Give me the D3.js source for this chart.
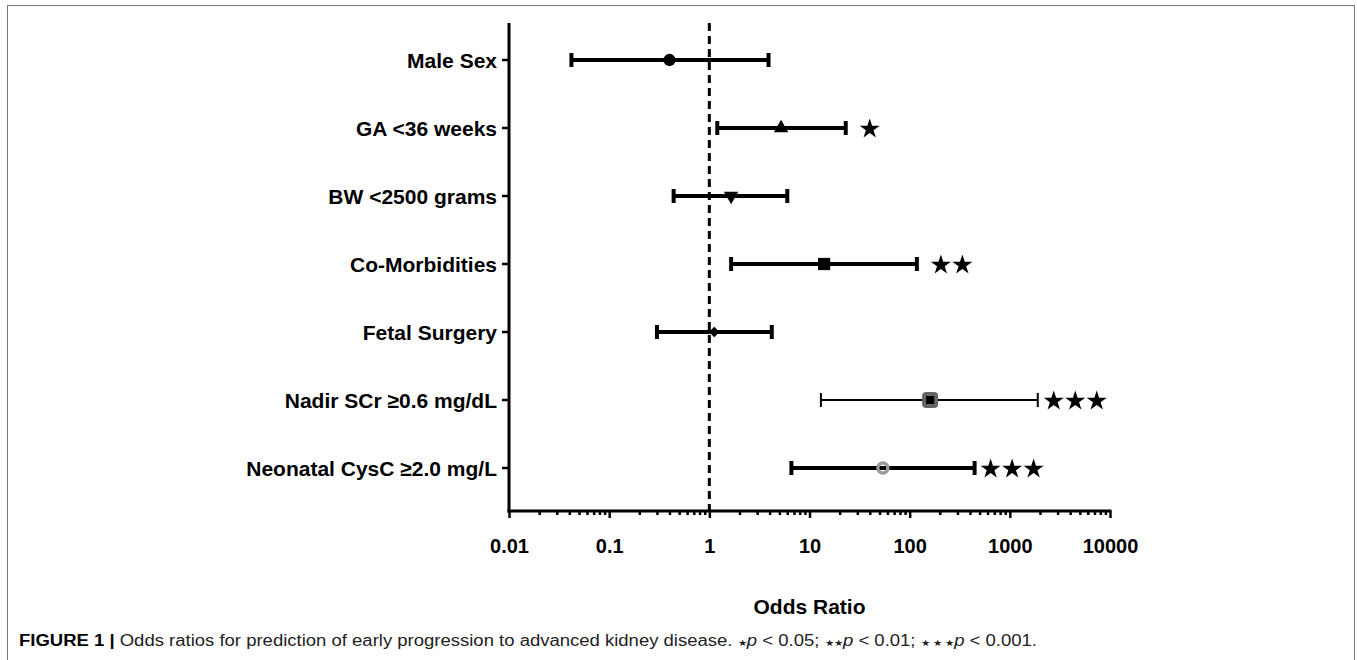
<!DOCTYPE html>
<html lang="en">
<head>
<meta charset="UTF-8"/>
<title>Odds ratios</title>
<style type="text/css">
  body {
    margin: 0;
    background: #fff;
  }
  svg {
    display: block;
    font-family: "Liberation Sans", Arial, Helvetica, sans-serif;
  }
  text.cat {
    font-size: 21px;
    font-weight: bold;
    fill: #000;
  }
  text.xlabel {
    font-size: 21px;
    font-weight: bold;
  }
  .xaxis text {
    font-size: 20px;
    font-weight: bold;
    fill: #000;
    font-family: "Liberation Sans", Arial, sans-serif;
  }
  .xaxis path {
    stroke-width: 0;
  }
  .xaxis line, .minor line {
    stroke: #000;
    stroke-width: 2.5;
  }
  .minor path {
    stroke-width: 0;
  }
  text.caption {
    font-size: 16px;
    fill: #222;
  }
</style>
</head>
<body>
<svg width="1357" height="660"></svg>
<script src="https://d3js.org/d3.v7.min.js"></script>
<script type="text/javascript">
  // rows, top to bottom
  const categories = ['Male Sex', 'GA <36 weeks', 'BW <2500 grams', 'Co-Morbidities',
    'Fetal Surgery', 'Nadir SCr \u22650.6 mg/dL', 'Neonatal CysC \u22652.0 mg/L'];
  const oddsRatio = [0.40, 5.2, 1.65, 14, 1.12, 160, 54];
  const ciLow = [0.042, 1.2, 0.44, 1.65, 0.30, 13, 6.6];
  const ciHigh = [3.9, 23, 6.0, 118, 4.2, 1900, 445];
  const stars = [0, 1, 0, 2, 0, 3, 3];
  const markers = ['circle', 'triangle', 'triangleDown', 'square', 'diamond', 'roundSquare', 'ring'];
  const xTicks = [0.01, 0.1, 1, 10, 100, 1000, 10000];

  const svg = d3.select('svg');

  // frame around figure
  svg.append('rect')
    .attr('x', 7.5).attr('y', 5.5)
    .attr('width', 1347).attr('height', 700)
    .attr('fill', 'none')
    .attr('stroke', '#777')
    .attr('stroke-width', 1);

  const plotLeft = 509, plotRight = 1110, plotTop = 23, plotBottom = 511;

  const x = d3.scaleLog()
    .domain([xTicks[0], xTicks[xTicks.length - 1]])
    .range([plotLeft, plotRight]);
  const y = d3.scalePoint()
    .domain(categories)
    .range([60, 468]);

  // minor ticks
  const minorTicks = [];
  for (let d = 0; d < xTicks.length - 1; d++) {
    for (let k = 2; k <= 9; k++) minorTicks.push(xTicks[d] * k);
  }
  svg.append('g')
    .attr('class', 'minor')
    .attr('transform', `translate(0, ${plotBottom})`)
    .call(d3.axisBottom(x).tickValues(minorTicks).tickSize(4).tickFormat(''));

  svg.append('g')
    .attr('class', 'xaxis')
    .attr('transform', `translate(0, ${plotBottom})`)
    .call(d3.axisBottom(x).tickValues(xTicks).tickSize(7).tickPadding(21)
      .tickFormat((d) => String(d)));

  // axis lines
  svg.append('line')
    .attr('x1', plotLeft - 1.5).attr('x2', plotRight + 1.5)
    .attr('y1', plotBottom).attr('y2', plotBottom)
    .attr('stroke', '#000').attr('stroke-width', 3);
  svg.append('line')
    .attr('x1', plotLeft).attr('x2', plotLeft)
    .attr('y1', plotTop).attr('y2', plotBottom + 1.5)
    .attr('stroke', '#000').attr('stroke-width', 3);

  // category ticks + labels
  categories.forEach((c) => {
    svg.append('line')
      .attr('x1', plotLeft - 7).attr('x2', plotLeft)
      .attr('y1', y(c)).attr('y2', y(c))
      .attr('stroke', '#000').attr('stroke-width', 2.5);
    svg.append('text')
      .attr('class', 'cat')
      .attr('x', plotLeft - 12)
      .attr('y', y(c) + 7.5)
      .attr('text-anchor', 'end')
      .text(c);
  });

  // reference line at OR = 1
  svg.append('line')
    .attr('x1', x(1)).attr('x2', x(1))
    .attr('y1', plotTop).attr('y2', plotBottom)
    .attr('stroke', '#000')
    .attr('stroke-width', 3)
    .attr('stroke-dasharray', '8 5');

  // error bars
  categories.forEach((c, i) => {
    const thin = markers[i] === 'roundSquare';
    const w = thin ? 2 : 4;
    const cy = y(c);
    svg.append('line')
      .attr('x1', x(ciLow[i])).attr('x2', x(ciHigh[i]))
      .attr('y1', cy).attr('y2', cy)
      .attr('stroke', '#000').attr('stroke-width', w);
    [ciLow[i], ciHigh[i]].forEach((v) => {
      svg.append('line')
        .attr('x1', x(v)).attr('x2', x(v))
        .attr('y1', cy - 7).attr('y2', cy + 7)
        .attr('stroke', '#000').attr('stroke-width', w);
    });
  });

  // point markers
  categories.forEach((c, i) => {
    const cx = x(oddsRatio[i]), cy = y(c);
    const g = svg.append('g').attr('transform', `translate(${cx}, ${cy})`);
    const m = markers[i];
    if (m === 'circle') {
      g.append('path').attr('d', d3.symbol(d3.symbolCircle, 120)()).attr('fill', '#000');
    } else if (m === 'triangle') {
      g.append('path').attr('d', d3.symbol(d3.symbolTriangle, 90)()).attr('fill', '#000');
    } else if (m === 'triangleDown') {
      g.append('path').attr('d', d3.symbol(d3.symbolTriangle, 90)())
        .attr('transform', 'rotate(180)').attr('fill', '#000');
    } else if (m === 'square') {
      g.append('path').attr('d', d3.symbol(d3.symbolSquare, 150)()).attr('fill', '#000');
    } else if (m === 'diamond') {
      g.append('path').attr('d', d3.symbol(d3.symbolSquare, 55)())
        .attr('transform', 'rotate(45)').attr('fill', '#000');
    } else if (m === 'roundSquare') {
      g.append('rect').attr('x', -8).attr('y', -8).attr('width', 16).attr('height', 16)
        .attr('rx', 4).attr('fill', '#666');
      g.append('rect').attr('x', -4).attr('y', -4).attr('width', 8).attr('height', 8)
        .attr('fill', '#000');
    } else if (m === 'ring') {
      g.append('circle').attr('r', 5).attr('fill', 'none')
        .attr('stroke', '#9a9a9a').attr('stroke-width', 3.5);
    }
  });

  // significance stars
  const star = d3.symbol(d3.symbolStar, 125)();
  categories.forEach((c, i) => {
    const n = stars[i];
    const gap = n === 3 ? 16 : 24;
    for (let k = 0; k < n; k++) {
      svg.append('path')
        .attr('d', star)
        .attr('transform', `translate(${x(ciHigh[i]) + gap + k * 21.5}, ${y(c) + 1})`)
        .attr('fill', '#000');
    }
  });

  svg.append('text')
    .attr('class', 'xlabel')
    .attr('x', (plotLeft + plotRight) / 2)
    .attr('y', 614)
    .attr('text-anchor', 'middle')
    .text('Odds Ratio');

  // caption
  const cap = svg.append('text')
    .attr('class', 'caption')
    .attr('x', 19)
    .attr('y', 646)
    .attr('textLength', 1018)
    .attr('lengthAdjust', 'spacingAndGlyphs');
  cap.append('tspan').attr('font-weight', 'bold').attr('fill', '#000').text('FIGURE 1 | ');
  cap.append('tspan').text('Odds ratios for prediction of early progression to advanced kidney disease. ');
  const pParts = [['\u2605', '< 0.05; '], ['\u2605\u2605', '< 0.01; '], ['\u2605 \u2605 \u2605', '< 0.001.']];
  pParts.forEach((p) => {
    cap.append('tspan').attr('font-size', 9).text(p[0]);
    cap.append('tspan').attr('font-style', 'italic').text('p');
    cap.append('tspan').text(' ' + p[1]);
  });
</script>
</body>
</html>
